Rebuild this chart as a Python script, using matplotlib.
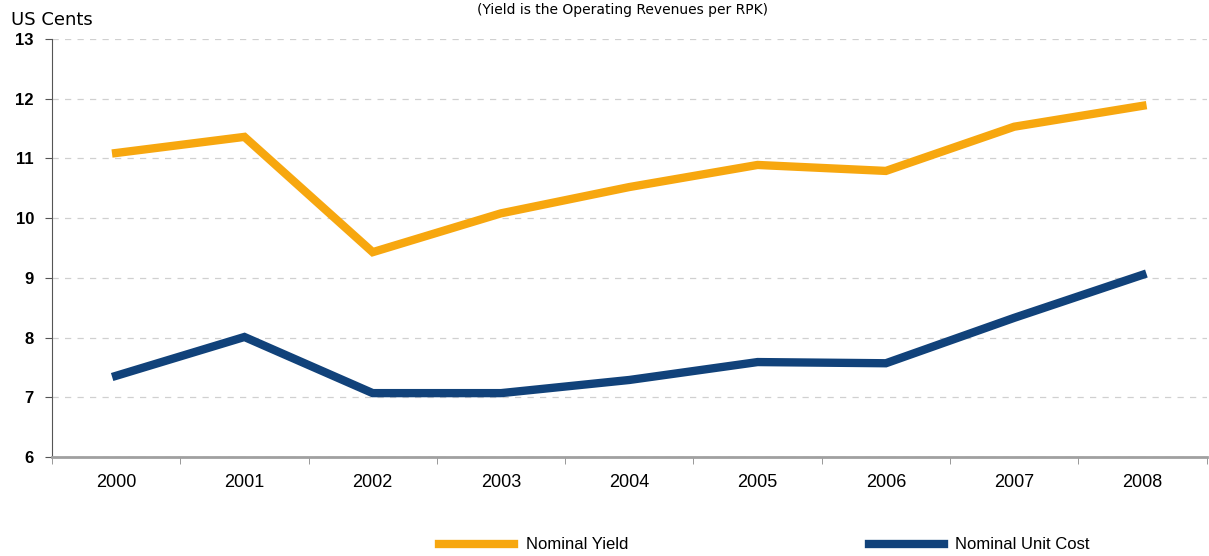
import matplotlib.pyplot as plt
from matplotlib.lines import Line2D

years = ["2000", "2001", "2002", "2003", "2004", "2005", "2006", "2007", "2008"]
nominal_yield = [11.09, 11.36, 9.43, 10.08, 10.52, 10.89, 10.79, 11.53, 11.88]
nominal_unit_cost = [7.36, 8.01, 7.07, 7.07, 7.29, 7.59, 7.57, 8.33, 9.05]

orange = "#F7A70F"
navy = "#11427A"

fig = plt.figure(figsize=(12.09, 5.56), dpi=100)
ax = fig.add_axes([0.043, 0.178, 0.955, 0.752])

x = range(len(years))
ax.plot(x, nominal_yield, color=orange, lw=6, solid_joinstyle="miter")
ax.plot(x, nominal_unit_cost, color=navy, lw=6, solid_joinstyle="miter")

ax.set_xlim(-0.5, len(years) - 0.5)
ax.set_ylim(6, 13)
ax.set_yticks(range(6, 14))
ax.set_yticklabels([str(v) for v in range(6, 14)], fontweight="bold",
                   fontsize=12, family="Liberation Sans")
ax.set_xticks(list(x))
ax.set_xticklabels(years, fontsize=13, family="Liberation Sans")
ax.set_xticks([i + 0.5 for i in range(-1, len(years))], minor=True)
ax.tick_params(axis="x", which="major", length=0, pad=12)
ax.tick_params(axis="x", which="minor", length=5, color="#888888")
ax.tick_params(axis="y", length=5, color="#555555", pad=8)

ax.grid(axis="y", color="#d0d0d0", linestyle=(0, (5, 5)), lw=0.9)
ax.set_axisbelow(True)
for side in ("top", "right"):
    ax.spines[side].set_visible(False)
ax.spines["left"].set_color("#555555")
ax.spines["bottom"].set_color("#a0a0a0")
ax.spines["bottom"].set_linewidth(2)

fig.text(0.009, 0.955, "US Cents", fontsize=13)
fig.text(0.515, 0.995, "(Yield is the Operating Revenues per RPK)", ha="center",
         va="top", fontsize=10)

handles = [Line2D([], [], color=orange, lw=6), Line2D([], [], color=navy, lw=6)]
fig.legend(handles, ["Nominal Yield", "Nominal Unit Cost"], loc="center",
           bbox_to_anchor=(0.6323, 0.02), ncol=2, frameon=False, handlelength=4.5,
           columnspacing=14.45, handletextpad=0.7,
           prop={"family": "Liberation Sans", "size": 12})

plt.savefig("out.png")
plt.close()
